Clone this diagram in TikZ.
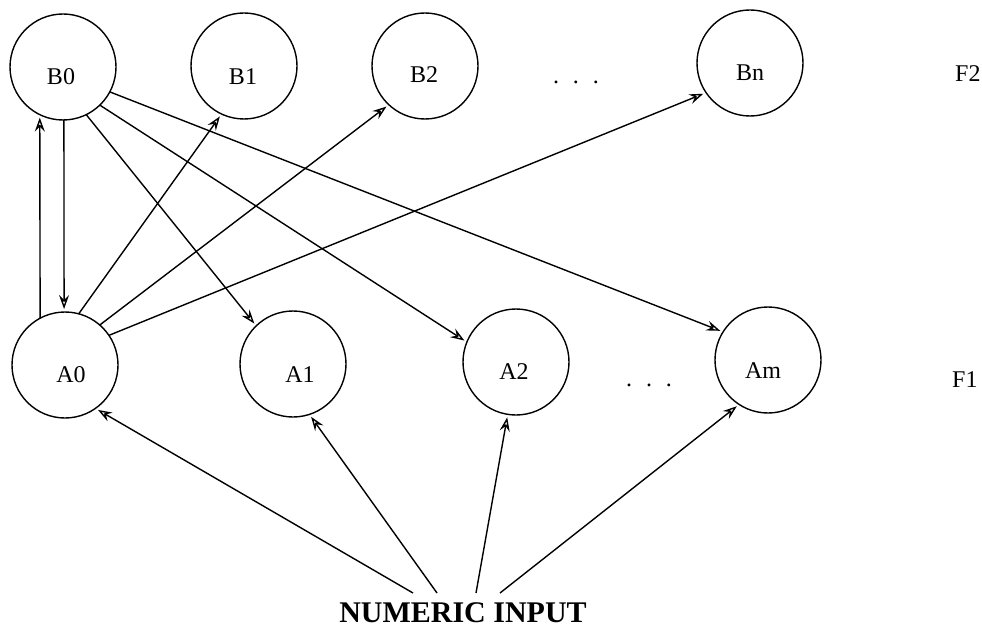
\documentclass[tikz,border=0pt]{standalone}
\usepackage{fontspec}
\setmainfont{Liberation Serif}
\usetikzlibrary{arrows.meta}
\begin{document}
\begin{tikzpicture}[x=1pt,y=-1pt,
  unit/.style={circle,draw,line width=1.4pt,minimum size=106pt,inner sep=0pt,outer sep=0pt},
  lbl/.style={font=\fontsize{24}{26}\selectfont,inner sep=0pt},
  arr/.style={line width=1.4pt,-{Stealth[open,length=14pt,width=10pt,inset=5pt]},shorten >=3pt},
]
\useasboundingbox (0,0) rectangle (982,636);
% F2 layer
\node[unit] (b0) at (63,67) {};
\node[unit] (b1) at (244,66) {};
\node[unit] (b2) at (425,66) {};
\node[unit] (bn) at (750,63) {};
% F1 layer
\node[unit] (a0) at (65,365) {};
\node[unit] (a1) at (293,364) {};
\node[unit] (a2) at (516,362) {};
\node[unit] (am) at (768,360) {};
% labels
\node[lbl] (tb0) at (61,77) {B0};
\node[lbl] (tb1) at (243,77) {B1};
\node[lbl] (tb2) at (424,75) {B2};
\node[lbl] (tbn) at (750,73) {Bn};
\node[lbl] (ta0) at (71,375) {A0};
\node[lbl] (ta1) at (300,375) {A1};
\node[lbl] (ta2) at (514,372) {A2};
\node[lbl] (tam) at (763,371) {Am};
\node[lbl,anchor=base] (dotsb) at (576,84) {.\hspace{14pt}.\hspace{14pt}.};
\node[lbl,anchor=base] (dotsa) at (649,386) {.\hspace{14pt}.\hspace{14pt}.};
\node[lbl,anchor=west] (f2) at (955,74) {F2};
\node[lbl,anchor=west] (f1) at (952,380) {F1};
\node[font=\bfseries\fontsize{30}{32}\selectfont,inner sep=0pt] (inp) at (463,613) {NUMERIC INPUT};
% input points
\coordinate (i0) at (413,593);
\coordinate (i1) at (437,593);
\coordinate (i2) at (476,593);
\coordinate (i3) at (500,593);
% connections
\draw[arr] (a0.118) -- (b0.244);
\draw[arr] (b0.271) -- (a0.91);
\draw[arr] (a0.75) -- (b1.245);
\draw[arr] (a0.49) -- (b2.227);
\draw[arr] (a0.34) -- (bn.214);
\draw[arr] (b0.296) -- (a1.134);
\draw[arr] (b0.314) -- (a2.158);
\draw[arr] (b0.332) -- (am.148);
\draw[arr] (i0) -- (a0.305);
\draw[arr] (i1) -- (a1.288);
\draw[arr] (i2) -- (a2.261);
\draw[arr] (i3) -- (am.237);
\end{tikzpicture}
\end{document}
